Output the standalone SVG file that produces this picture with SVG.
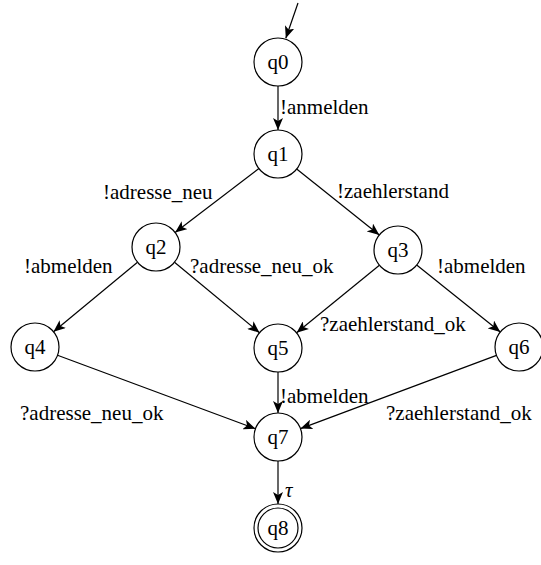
<svg xmlns="http://www.w3.org/2000/svg" width="541" height="565" viewBox="0 0 541 565">
  <style>
    text { font-family: 'Liberation Serif', 'Times New Roman', Tinos, 'Noto Serif', 'DejaVu Serif', FreeSerif, serif; fill: #000000; font-size: 21px; }
    .state { fill: #ffffff; stroke: #000000; stroke-width: 1.2; }
    .name { text-anchor: middle; }
    .edge { stroke: #000000; stroke-width: 1.2; fill: none; marker-end: url(#arrow); }
  </style>
  <defs>
    <marker id="arrow" viewBox="0 0 12 10" refX="12" refY="5" markerWidth="12" markerHeight="10" markerUnits="userSpaceOnUse" orient="auto">
      <path d="M0,0 L12,5 L0,10 L3,5 Z" fill="#000000"/>
    </marker>
  </defs>
  <rect width="541" height="565" fill="#ffffff"/>

  <g id="connectors">
    <line class="edge" x1="298" y1="3" x2="285.8" y2="38.3"/>
    <line class="edge" x1="278" y1="86" x2="278" y2="130"/>
    <line class="edge" x1="258.9" y1="168.5" x2="175.1" y2="232.5"/>
    <line class="edge" x1="296.7" y1="169.0" x2="379.3" y2="235.0"/>
    <line class="edge" x1="137.5" y1="262.3" x2="53.5" y2="331.7"/>
    <line class="edge" x1="174.5" y1="262.3" x2="259.5" y2="332.7"/>
    <line class="edge" x1="379.4" y1="265.2" x2="296.6" y2="332.8"/>
    <line class="edge" x1="416.7" y1="265.0" x2="500.3" y2="332.0"/>
    <line class="edge" x1="57.5" y1="355.3" x2="255.5" y2="428.7"/>
    <line class="edge" x1="278" y1="372" x2="278" y2="413"/>
    <line class="edge" x1="496.5" y1="355.4" x2="300.5" y2="428.6"/>
    <line class="edge" x1="278" y1="461" x2="278" y2="504"/>

    <text x="280" y="114">!anmelden</text>
    <text x="103" y="199">!adresse_neu</text>
    <text x="337" y="198">!zaehlerstand</text>
    <text x="24" y="273">!abmelden</text>
    <text x="190" y="273">?adresse_neu_ok</text>
    <text x="437" y="273">!abmelden</text>
    <text x="320" y="331">?zaehlerstand_ok</text>
    <text x="280" y="403">!abmelden</text>
    <text x="20" y="420">?adresse_neu_ok</text>
    <text x="386" y="420">?zaehlerstand_ok</text>
    <text x="285" y="497" font-style="italic">τ</text>
  </g>

  <g id="q0"><circle class="state" cx="278" cy="62" r="24"/><text class="name" x="278" y="69">q0</text></g>
  <g id="q1"><circle class="state" cx="278" cy="154" r="24"/><text class="name" x="278" y="161">q1</text></g>
  <g id="q2"><circle class="state" cx="156" cy="247" r="24"/><text class="name" x="156" y="254">q2</text></g>
  <g id="q3"><circle class="state" cx="398" cy="250" r="24"/><text class="name" x="398" y="257">q3</text></g>
  <g id="q4"><circle class="state" cx="35" cy="347" r="24"/><text class="name" x="35" y="354">q4</text></g>
  <g id="q5"><circle class="state" cx="278" cy="348" r="24"/><text class="name" x="278" y="355">q5</text></g>
  <g id="q6"><circle class="state" cx="519" cy="347" r="24"/><text class="name" x="519" y="354">q6</text></g>
  <g id="q7"><circle class="state" cx="278" cy="437" r="24"/><text class="name" x="278" y="444">q7</text></g>
  <g id="q8"><circle class="state" cx="278" cy="528" r="24"/><circle class="state" cx="278" cy="528" r="20"/><text class="name" x="278" y="535">q8</text></g>
</svg>
